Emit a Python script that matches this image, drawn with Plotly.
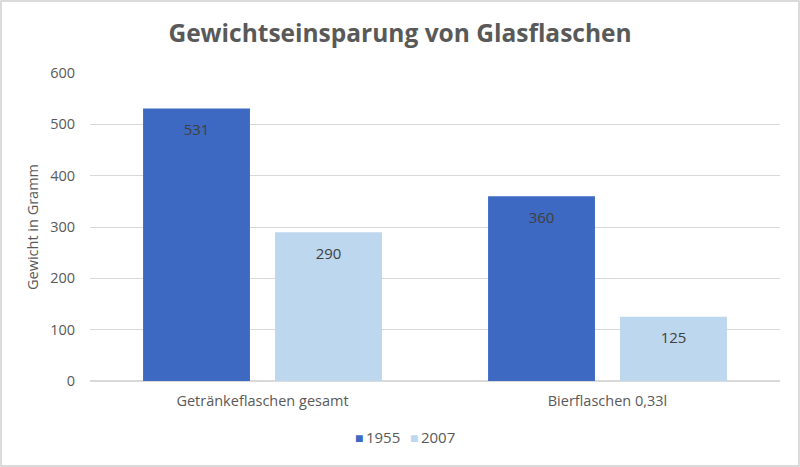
import plotly.graph_objects as go

categories = ["Getränkeflaschen gesamt", "Bierflaschen 0,33l"]
years = ["1955", "2007"]
weights_1955 = [531, 360]
weights_2007 = [290, 125]
y_ticks = [0, 100, 200, 300, 400, 500, 600]

W, H = 800, 467
ml, mr, mt, mb = 90, 20, 73, 86
colors = ["#3D69C2", "#BDD7EE"]

label_tpl = "<span style='font-size:4px'> </span><br>%{y}"

fig = go.Figure()
for year, vals, col in zip(years, [weights_1955, weights_2007], colors):
    fig.add_trace(go.Bar(
        x=categories, y=vals, name=year,
        marker=dict(color=col, line=dict(width=0)),
        texttemplate=label_tpl, textposition="inside", insidetextanchor="end",
        textfont=dict(color="#404040", size=15),
        showlegend=False,
    ))

pw = W - ml - mr
ph = H - mt - mb
# grey frame round the whole chart
fig.add_shape(type="rect", xref="paper", yref="paper",
              x0=-(ml - 1) / pw, x1=1 + (mr - 1) / pw,
              y0=-(mb - 1) / ph, y1=1 + (mt - 1) / ph,
              line=dict(color="#D0D0D0", width=1.5), fillcolor="rgba(0,0,0,0)", layer="below")

# compact legend below the plot, like the office chart
for i, (year, col) in enumerate(zip(years, colors)):
    px_left = 353 + i * 55
    fig.add_annotation(
        xref="paper", yref="paper", x=(px_left - ml) / pw, y=-(437 - mt - ph) / ph,
        xanchor="left", yanchor="middle", showarrow=False,
        text=f"<span style='color:{col};font-size:14px'>■</span>&#8201;{year}",
        font=dict(size=15, color="#595959"),
    )

fig.update_layout(
    width=W, height=H,
    margin=dict(l=ml, r=mr, t=mt, b=mb),
    paper_bgcolor="white", plot_bgcolor="white",
    font=dict(family="Open Sans", color="#595959", size=14.5),
    title=dict(text="<b>Gewichtseinsparung von Glasflaschen</b>", x=0.5, xanchor="center",
               y=1 - 33 / H, yanchor="middle", font=dict(size=24.5, color="#595959")),
    barmode="group", bargap=0.235, bargroupgap=0.19,
    uniformtext=dict(minsize=10, mode="show"),
)
fig.update_yaxes(range=[0, 600], tickvals=y_ticks, showgrid=True, gridcolor="#D9D9D9",
                 gridwidth=1, zeroline=True, zerolinecolor="#D9D9D9", showline=False,
                 ticks="", ticklabelstandoff=14, tickfont=dict(size=14.5, color="#595959"),
                 title=dict(text="Gewicht in Gramm", font=dict(size=14.5, color="#595959"), standoff=8))
fig.update_xaxes(showgrid=False, showline=False, ticks="", ticklabelstandoff=9,
                 tickfont=dict(size=14.5, color="#595959"))

fig.write_html("out.html", post_script="document.body.style.margin='0';",
               config={"displayModeBar": False})
